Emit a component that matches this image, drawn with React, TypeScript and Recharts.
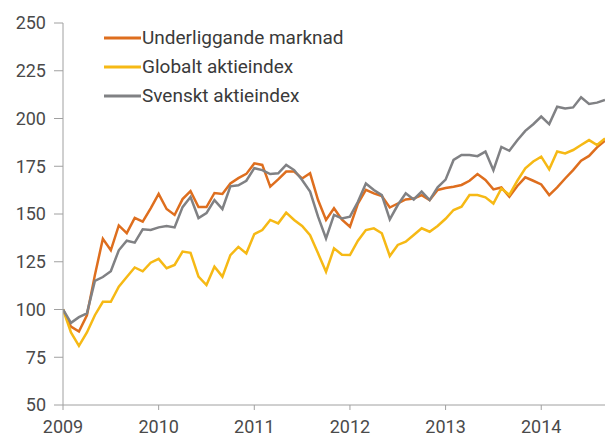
import React from 'react';
import { LineChart, Line, XAxis, YAxis } from 'recharts';

const seriesNames = ['Underliggande marknad', 'Globalt aktieindex', 'Svenskt aktieindex'];
const seriesColors = ['#DE6E1E', '#F6B915', '#808184'];

const yTicks = [50, 75, 100, 125, 150, 175, 200, 225, 250];
const xTicks = [0, 12, 24, 36, 48, 60];
const startYear = 2009;

// Monthly, Jan 2009 .. Sep 2014
const underliggande = [
  100, 91, 88.5, 97, 118, 137, 131, 144, 140, 148, 146, 153,
  160.5, 152.6, 149.5, 157.8, 162, 153.6, 153.6, 161, 160.5, 166, 168.8, 171,
  176.5, 175.7, 164.3, 168.1, 172.2, 172.2, 168.6, 171.3, 157.3, 146.9, 153, 147,
  143.3, 155.5, 162.6, 160.8, 159.4, 153.4, 155.5, 157.6, 158.1, 159.9, 157.3, 162.6,
  163.6, 164.3, 165.2, 167.4, 170.9, 167.8, 162.9, 163.9, 159, 164.7, 169.2, 167.4,
  165.5, 159.9, 163.9, 168.6, 173, 177.9, 180.4, 184.9, 188.4,
];
const globalt = [
  100, 88, 81, 88, 97, 104, 104, 112, 117, 122, 120, 124.5,
  126.5, 121.6, 123.3, 130.3, 129.7, 117.2, 112.8, 122.4, 117.2, 128.5, 132.8, 129.4,
  139.5, 141.6, 146.9, 145.1, 150.7, 146.9, 143.7, 138.9, 129.4, 119.8, 132, 128.7,
  128.5, 136, 141.6, 142.5, 139.9, 128, 133.8, 135.5, 139, 142.5, 140.7, 143.7,
  147.5, 152.1, 153.8, 159.9, 159.9, 158.7, 155.5, 163.4, 160, 167.4, 173.9, 177.5,
  180, 173.4, 182.7, 181.7, 183.5, 186.1, 188.7, 186.1, 189.6,
];
const svenskt = [
  100, 93, 96, 98, 115, 117, 120, 131, 136, 135, 142, 141.6,
  143, 143.7, 143, 153.6, 158.9, 147.9, 150.5, 157.3, 152.6, 164.5, 165, 167.4,
  174, 173, 170.9, 171.3, 175.7, 173, 167.8, 161.7, 148.6, 137.2, 149.5, 147.7,
  148.6, 156.4, 166, 162.6, 159.9, 147.2, 154.7, 160.8, 157.6, 161.7, 157.3, 164,
  168, 178.3, 180.9, 180.9, 180.3, 182.7, 172.9, 185.1, 183.1, 188.6, 193.5, 197,
  201, 197.1, 206.2, 205.3, 205.8, 211.1, 207.6, 208.3, 209.7,
];

const data = underliggande.map((v, i) => ({
  i,
  u: v,
  g: globalt[i],
  s: svenskt[i],
}));

const keys = ['u', 'g', 's'];

const fontFamily = 'Roboto, "DejaVu Sans", sans-serif';

const LegendBox = () => (
  <div
    style={{
      position: 'absolute',
      left: 104,
      top: 23,
      fontFamily,
      fontSize: 19,
      color: '#3a3a3a',
      lineHeight: '29px',
    }}
  >
    {seriesNames.map((n, k) => (
      <div key={n} style={{ display: 'flex', alignItems: 'center', height: 29 }}>
        <svg width={37} height={4} style={{ marginRight: 1 }}>
          <line x1={0} y1={2} x2={37} y2={2} stroke={seriesColors[k]} strokeWidth={3} />
        </svg>
        <span>{n}</span>
      </div>
    ))}
  </div>
);

export default function App() {
  return (
    <div style={{ position: 'absolute', left: 0, top: 0, width: 605, height: 439, background: '#fff' }}>
      <LineChart width={605} height={439} data={data} margin={{ top: 23, right: 0, left: 0, bottom: 0 }}>
        <XAxis
          dataKey="i"
          type="number"
          domain={[0, 68]}
          ticks={xTicks}
          tickFormatter={(v: number) => String(startYear + v / 12)}
          height={34}
          tickSize={5}
          tickMargin={10}
          stroke="#a0a0a0"
          tick={{ fill: '#4a4a4a', fontSize: 18, fontFamily }}
          allowDataOverflow
        />
        <YAxis
          domain={[50, 250]}
          ticks={yTicks}
          width={63}
          tickSize={9}
          tickMargin={8}
          stroke="#a0a0a0"
          tick={{ fill: '#4a4a4a', fontSize: 18, fontFamily }}
          allowDataOverflow
        />
        {keys.map((k, idx) => (
          <Line
            key={k}
            type="linear"
            dataKey={k}
            stroke={seriesColors[idx]}
            strokeWidth={2.5}
            dot={false}
            isAnimationActive={false}
          />
        ))}
      </LineChart>
      <LegendBox />
    </div>
  );
}
